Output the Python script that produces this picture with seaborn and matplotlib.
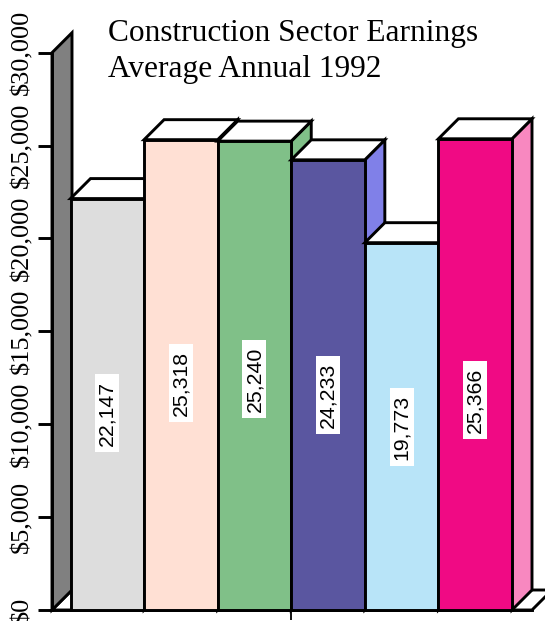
import matplotlib
matplotlib.use("Agg")
import matplotlib.pyplot as plt
import pandas as pd
import seaborn as sns
from matplotlib.patches import Polygon, Rectangle
from matplotlib.transforms import Affine2D, ScaledTranslation

groups = ["Group 1", "Group 2", "Group 3", "Group 4", "Group 5", "Group 6"]
earnings = [22147, 25318, 25240, 24233, 19773, 25366]
front_colors = ["#DDDDDD", "#FFE0D4", "#80C088", "#5A56A0", "#B8E4F8", "#F00A84"]
side_colors = ["#EEEEEE", "#FFEFE8", "#80C088", "#8080E8", "#D8F0FC", "#F888C0"]
y_ticks = [0, 5000, 10000, 15000, 20000, 25000, 30000]
y_tick_labels = ["$0", "$5,000", "$10,000", "$15,000", "$20,000", "$25,000", "$30,000"]
title_lines = ["Construction Sector Earnings", "Average Annual 1992"]

# vertical nudge of each value label away from the bar's mid-height (data units)
label_nudge = [-470, -440, -185, -543, -35, -1380]

W, H, DPI = 545, 621, 100
DEPTH = 20          # oblique depth of the 3-D effect, in pixels
LW = 2.1
YMAX = 30000

sns.set_style("white")
plt.rcParams["font.family"] = ["Liberation Sans", "DejaVu Sans"]
plt.rcParams.update({"text.color": "black", "axes.labelcolor": "black",
                     "xtick.color": "black", "ytick.color": "black"})

fig = plt.figure(figsize=(W / DPI, H / DPI), dpi=DPI)
ax_left, ax_right, ax_bottom, ax_top = 52, 532, 610, 52.7
ax = fig.add_axes([ax_left / W, (H - ax_bottom) / H,
                   (ax_right - ax_left) / W, (ax_bottom - ax_top) / H])

df = pd.DataFrame({"group": groups, "earnings": earnings})
sns.barplot(data=df, x="group", y="earnings", hue="group", palette=front_colors,
            width=1.0, saturation=1, edgecolor="black", linewidth=LW,
            legend=False, ax=ax)
bars = list(ax.patches)

# room left of the first bar for the side wall and right of the last for the floor
gap_l, gap_r = 18.5, 20
unit = ((ax_right - ax_left) - gap_l - gap_r) / len(groups)
xlim = (-0.5 - gap_l / unit, len(groups) - 0.5 + gap_r / unit)
ax.set_xlim(*xlim)
ax.set_ylim(0, YMAX)

# depth offsets in data units
px0, py0 = ax.transData.transform((0, 0))
px1, py1 = ax.transData.transform((1, 1000))
ddx = DEPTH / (px1 - px0)
ddy = DEPTH * 1000 / (py1 - py0)

xl, xr = xlim
floor = Polygon([(xl, 0), (xr, 0), (xr + ddx, ddy), (xl + ddx, ddy)],
                closed=True, fc="white", ec="black", lw=LW, clip_on=False,
                zorder=1, joinstyle="miter")
wall = Polygon([(xl, 0), (xl, YMAX), (xl + ddx, YMAX + ddy), (xl + ddx, ddy)],
               closed=True, fc="#808080", ec="black", lw=LW, clip_on=False,
               zorder=2, joinstyle="miter")
ax.add_patch(floor)
ax.add_patch(wall)

for i, p in enumerate(bars):
    x0 = p.get_x()
    x1 = x0 + p.get_width()
    v = p.get_height()
    side = Polygon([(x1, 0), (x1, v), (x1 + ddx, v + ddy), (x1 + ddx, ddy)],
                   closed=True, fc=side_colors[i], ec="black", lw=LW,
                   clip_on=False, zorder=10 + 3 * i, joinstyle="miter")
    top = Polygon([(x0, v), (x1, v), (x1 + ddx, v + ddy), (x0 + ddx, v + ddy)],
                  closed=True, fc="white", ec="black", lw=LW,
                  clip_on=False, zorder=11 + 3 * i, joinstyle="miter")
    ax.add_patch(side)
    ax.add_patch(top)
    p.set_zorder(12 + 3 * i)
    p.set_clip_on(False)

    # value label in a white box, centred in the bar
    cx = x0 + p.get_width() / 2
    cy = v / 2 + label_nudge[i]
    box_tr = Affine2D() + ScaledTranslation(cx, cy, ax.transData)
    ax.add_patch(Rectangle((-12, -39), 24, 78, transform=box_tr, fc="white",
                           ec="none", zorder=50, clip_on=False))
    ax.text(cx, cy, f"{int(v):,}", rotation=90, ha="center", va="center",
            fontsize=15.3, color="black", zorder=51,
            family=["Liberation Sans", "DejaVu Sans"])

# axes styling
for side_name in ("top", "right"):
    ax.spines[side_name].set_visible(False)
for side_name in ("left", "bottom"):
    ax.spines[side_name].set_linewidth(LW)
    ax.spines[side_name].set_color("black")
    ax.spines[side_name].set_zorder(5)

ax.set_yticks(y_ticks)
ax.set_yticklabels(y_tick_labels)
for lbl in ax.get_yticklabels():
    lbl.set_rotation(90)
    lbl.set_va("center")
    lbl.set_ha("right")
    lbl.set_fontfamily(["Liberation Serif", "DejaVu Serif"])
    lbl.set_fontsize(19)
    lbl.set_color("black")
ax.tick_params(axis="y", left=True, direction="out", length=10, width=LW,
               pad=3.6, colors="black")

ax.set_xticks([len(groups) / 2 - 0.5])
ax.set_xticklabels([""])
ax.tick_params(axis="x", bottom=True, direction="out", length=7.5, width=1.3,
               colors="black")
ax.set_xlabel("")
ax.set_ylabel("")
ax.set_xlim(*xlim)
ax.set_ylim(0, YMAX)

fig.text(108 / W, 1 - 41 / H, title_lines[0], ha="left", va="baseline",
         fontsize=22.6, color="black", family=["Liberation Serif", "DejaVu Serif"])
fig.text(108 / W, 1 - 76.7 / H, title_lines[1], ha="left", va="baseline",
         fontsize=22.6, color="black", family=["Liberation Serif", "DejaVu Serif"])

fig.savefig("out.png", dpi=DPI, facecolor="white")
